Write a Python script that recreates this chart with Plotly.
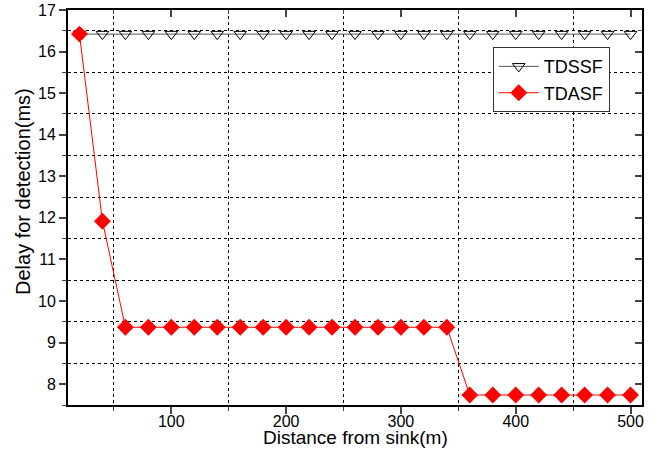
import plotly.graph_objects as go

distance = [20, 40, 60, 80, 100, 120, 140, 160, 180, 200, 220, 240, 260,
            280, 300, 320, 340, 360, 380, 400, 420, 440, 460, 480, 500]
tdssf = [16.42] * 25
tdasf = [16.42, 11.92, 9.37, 9.37, 9.37, 9.37, 9.37, 9.37, 9.37, 9.37, 9.37, 9.37, 9.37,
         9.37, 9.37, 9.37, 9.37, 7.74, 7.74, 7.74, 7.74, 7.74, 7.74, 7.74, 7.74]

FONT = "Liberation Sans, Arial, sans-serif"
W, H = 670, 449
ML, MR, MT, MB = 68, 28, 10, 44
PW, PH = W - ML - MR, H - MT - MB

fig = go.Figure()
fig.add_trace(go.Scatter(
    x=distance, y=tdssf, name="TDSSF", mode="lines+markers",
    line=dict(color="#555555", width=1),
    marker=dict(symbol="triangle-down-open", size=11, color="black", line=dict(width=1))))
fig.add_trace(go.Scatter(
    x=distance, y=tdasf, name="TDASF", mode="lines+markers",
    line=dict(color="red", width=1),
    marker=dict(symbol="diamond", size=13, color="red")))
# invisible trace to carry the mirrored (inward-tick) axes
fig.add_trace(go.Scatter(x=[distance[0]], y=[tdssf[0]], xaxis="x2", yaxis="y2",
                         mode="markers", marker=dict(opacity=0), showlegend=False,
                         hoverinfo="skip"))

common = dict(showline=True, linewidth=2, linecolor="black", zeroline=False, automargin=False,
              tickfont=dict(family=FONT, size=16, color="black"))

fig.update_layout(
    width=W, height=H,
    margin=dict(l=ML, r=MR, t=MT, b=MB),
    paper_bgcolor="white", plot_bgcolor="white",
    font=dict(family=FONT, color="black"),
    xaxis=dict(range=[10, 510], dtick=100, tick0=0, ticks="outside", ticklen=7,
               tickwidth=2, showgrid=False, ticklabelstandoff=-6,
               minor=dict(dtick=50, tick0=0, ticks="outside", ticklen=4, tickwidth=1,
                          showgrid=True, griddash="dot", gridcolor="black", gridwidth=1),
               **common),
    yaxis=dict(range=[7.5, 17], dtick=1, tick0=0, ticks="outside", ticklen=7,
               tickwidth=2, showgrid=False,
               minor=dict(dtick=0.5, tick0=0, ticks="outside", ticklen=4, tickwidth=1,
                          showgrid=True, griddash="dot", gridcolor="black", gridwidth=1),
               **common),
    xaxis2=dict(range=[10, 510], overlaying="x", side="top", dtick=100, tick0=0,
                ticks="inside", ticklen=7, tickwidth=2, showticklabels=False, automargin=False,
                showgrid=False, showline=True, linewidth=2, linecolor="black", zeroline=False,
                minor=dict(dtick=50, tick0=0, ticks="inside", ticklen=4, tickwidth=1)),
    yaxis2=dict(range=[7.5, 17], overlaying="y", side="right", dtick=1, tick0=0,
                ticks="inside", ticklen=7, tickwidth=2, showticklabels=False, automargin=False,
                showgrid=False, showline=True, linewidth=2, linecolor="black", zeroline=False,
                minor=dict(dtick=0.5, tick0=0, ticks="inside", ticklen=4, tickwidth=1)),
    legend=dict(x=0.740, y=0.906, xanchor="left", yanchor="top",
                bgcolor="white", bordercolor="#333333", borderwidth=1,
                font=dict(size=18, family=FONT), tracegroupgap=0, itemwidth=40),
    showlegend=True,
    annotations=[
        dict(text="Distance from sink(m)", xref="paper", yref="paper",
             x=0.5, y=-(437 - (H - MB)) / PH, xanchor="center", yanchor="middle",
             showarrow=False, borderpad=0, font=dict(size=19, family=FONT, color="black")),
        dict(text="Delay for detection(ms)", xref="paper", yref="paper",
             x=(23 - ML) / PW, y=(H - MB - 192) / PH, xanchor="center", yanchor="middle",
             textangle=-90, showarrow=False, font=dict(size=20, family=FONT, color="black")),
    ],
)

fig.write_html("out.html")
